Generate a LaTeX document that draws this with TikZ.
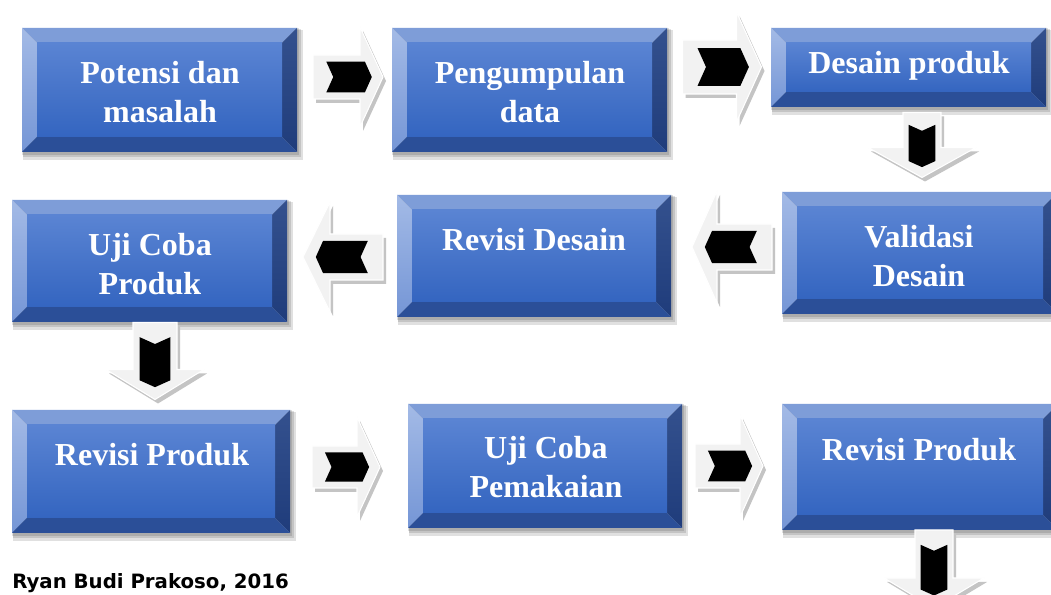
\documentclass[tikz,border=0pt]{standalone}
\usepackage{fontspec}
\setmainfont{Liberation Serif}
\newfontfamily\footfont{DejaVu Sans}
\definecolor{bvtop}{HTML}{7E9DD8}
\definecolor{bvlefttop}{HTML}{A3BAE6}
\definecolor{bvleftbot}{HTML}{7596D6}
\definecolor{bvrighttop}{HTML}{34518E}
\definecolor{bvrightbot}{HTML}{1F3C7B}
\definecolor{bvbot}{HTML}{2B4F98}
\definecolor{facetop}{HTML}{5A84D3}
\definecolor{facebot}{HTML}{3465C0}
\definecolor{arrface}{HTML}{F2F2F2}
\definecolor{arrshadow}{HTML}{C4C4C4}
\tikzset{
  boxtext/.style={text=white, font=\bfseries\fontsize{24}{29}\selectfont, align=center, inner sep=0pt},
  foottext/.style={font=\footfont\bfseries\fontsize{14.8}{17}\selectfont, anchor=base west, inner sep=0pt},
  boxshadow/.style={fill=black, fill opacity=0.12},
}
\newcommand\bevbox[5]{%
  \fill[boxshadow] (#2+1,#3+2) rectangle (#4+6,#5+8);
  \fill[boxshadow] (#2+1,#3+1) rectangle (#4+4,#5+5);
  \fill[boxshadow] (#2,#3) rectangle (#4+2,#5+3);
  \fill[bvtop] (#2,#3) -- (#4,#3) -- (#4-15,#3+15) -- (#2+15,#3+15) -- cycle;
  \shade[top color=bvlefttop,bottom color=bvleftbot] (#2,#3) -- (#2+15,#3+15) -- (#2+15,#5-15) -- (#2,#5) -- cycle;
  \shade[top color=bvrighttop,bottom color=bvrightbot] (#4,#3) -- (#4,#5) -- (#4-15,#5-15) -- (#4-15,#3+15) -- cycle;
  \fill[bvbot] (#2,#5) -- (#4,#5) -- (#4-15,#5-15) -- (#2+15,#5-15) -- cycle;
  \shade[top color=facetop,bottom color=facebot] (#2+15,#3+15) rectangle (#4-15,#5-15);
  \coordinate (#1) at ({(#2+#4)/2},{(#3+#5)/2});
}
\newcommand\barrow[7]{%
  \pgfmathsetmacro\ah{#4/2}%
  \pgfmathsetmacro\ab{#4/2-#5}%
  \pgfmathsetmacro\ax{-0.31*#4}%
  \pgfmathsetmacro\ay{0.34*#4}%
  \pgfmathsetmacro\bh{0.7*#6}%
  \pgfmathsetmacro\bd{0.45*0.7*#6}%
  \begin{scope}[shift={(#1+3,#2+4)},rotate=#3]
    \fill[arrshadow] (-\ah,-#6) -- (\ab,-#6) -- (\ab,-#7) -- (\ah,0) -- (\ab,#7) -- (\ab,#6) -- (-\ah,#6) -- cycle;
  \end{scope}
  \begin{scope}[shift={(#1,#2)},rotate=#3]
    \fill[arrface, draw=white, line width=0.8pt] (-\ah,-#6) -- (\ab,-#6) -- (\ab,-#7) -- (\ah,0) -- (\ab,#7) -- (\ab,#6) -- (-\ah,#6) -- cycle;
    \fill[black] (\ax,-\bh) -- (\ay-\bd,-\bh) -- (\ay,0) -- (\ay-\bd,\bh) -- (\ax,\bh) -- (\ax+\bd,0) -- cycle;
  \end{scope}}
\begin{document}
\begin{tikzpicture}[x=0.75pt,y=-0.75pt]
\useasboundingbox (0,0) rectangle (1051,595);
\clip (0,0) rectangle (1051,595);
\fill[white] (0,0) rectangle (1051,595);
% boxes
\bevbox{b1}{22}{28}{297}{152}
\bevbox{b2}{392}{28}{667}{152}
\bevbox{b3}{771}{28}{1046}{107}
\bevbox{b4}{782}{192}{1058}{314}
\bevbox{b5}{397}{195}{671}{317}
\bevbox{b6}{12}{200}{287}{322}
\bevbox{b7}{12}{410}{290}{533}
\bevbox{b8}{408}{404}{682}{528}
\bevbox{b9}{782}{404}{1058}{530}
% texts
\node[boxtext] (t1) at (160,92) {Potensi dan\\masalah};
\node[boxtext] (t2) at (530,92) {Pengumpulan\\data};
\node[boxtext] (t3) at (909,66) {Desain produk};
\node[boxtext] (t4) at (919,256) {Validasi\\Desain};
\node[boxtext] (t5) at (534,240) {Revisi Desain};
\node[boxtext] (t6) at (150,264) {Uji Coba\\Produk};
\node[boxtext] (t7) at (152,455) {Revisi Produk};
\node[boxtext] (t8) at (546,467) {Uji Coba\\Pemakaian};
\node[boxtext] (t9) at (919,450) {Revisi Produk};
% block arrows
\barrow{348}{77}{0}{70}{23}{22}{50}
\barrow{722}{67}{0}{79}{25}{27}{55}
\barrow{922}{145}{-90}{65}{30}{19}{54}
\barrow{732}{247}{180}{80}{25}{23}{56}
\barrow{343}{257}{180}{80}{27}{23}{55}
\barrow{155}{361}{-90}{77}{30}{22}{49}
\barrow{346}{467}{0}{68}{23}{21}{50}
\barrow{729}{466}{0}{68}{23}{22}{51}
\barrow{934}{569}{-90}{78}{30}{19}{50}
% footer
\node[foottext] (foot) at (12,589) {Ryan Budi Prakoso, 2016};
\end{tikzpicture}
\end{document}
